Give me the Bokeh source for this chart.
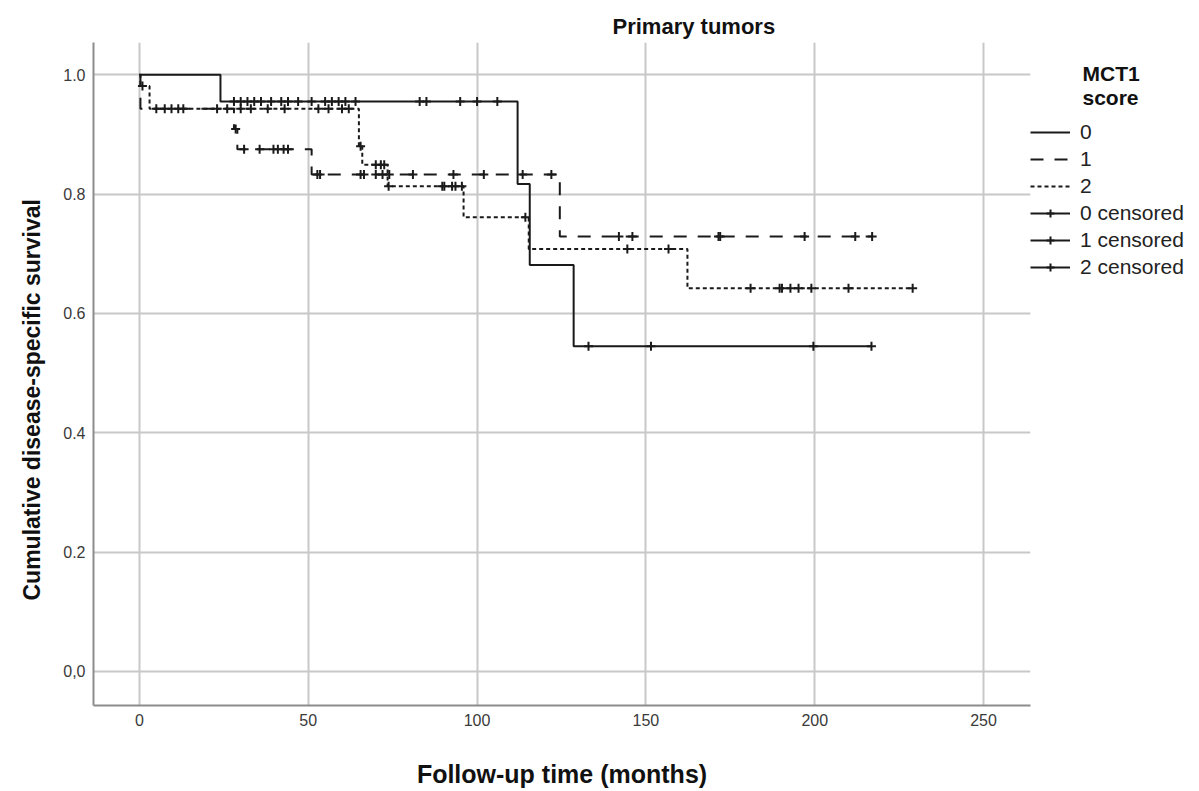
import numpy as np
from bokeh.plotting import figure
from bokeh.models import Range1d, Legend, LegendItem, FixedTicker, Title
from bokeh.embed import file_html
from bokeh.resources import INLINE

FONT = "Liberation Sans"

# ---------------- data ----------------
groups = ["0", "1", "2"]

# MCT1 score 0 (solid)
g0_event_t = [24, 112, 115.6, 128.6]
g0_event_s = [0.955, 0.817, 0.681, 0.545]
g0_cens_t = [28, 30, 32, 34, 36, 39, 42, 44, 47, 51, 55, 57, 59, 61, 64,
             83, 85, 95, 100, 106, 133, 151.5, 199.6, 216.8]

# MCT1 score 1 (dashed)
g1_event_t = [0.3, 28, 29, 51, 124.5]
g1_event_s = [0.943, 0.909, 0.875, 0.833, 0.729]
g1_cens_t = [5, 28.5, 31, 35.6, 39.7, 41, 42.7, 44,
             52.7, 53.5, 65.5, 66.5, 70, 72, 74, 81, 93, 102, 113.5, 122,
             142, 146, 171.5, 172, 197, 212, 217]

# MCT1 score 2 (dotted)
g2_event_t = [0.3, 3, 65, 66, 73.5, 96, 115.3, 162.3]
g2_event_s = [0.981, 0.943, 0.88, 0.849, 0.813, 0.761, 0.708, 0.642]
g2_cens_t = [0.9, 7.5, 9.5, 11.5, 13, 23, 26, 30, 33, 38, 43, 53, 56, 60, 62,
             65.5, 70, 71.5, 72.5, 73.8, 89.7, 90.3, 92.6, 93.6, 95.5, 114.3,
             144.5, 156.7, 181, 189.6, 190.3, 192.8, 195.2, 199, 210, 229]

x_ticks = [0, 50, 100, 150, 200, 250]
y_ticks = [0.0, 0.2, 0.4, 0.6, 0.8, 1.0]
y_tick_labels = ["0,0", "0.2", "0.4", "0.6", "0.8", "1.0"]

title_text = "Primary tumors"
x_label = "Follow-up time (months)"
y_label = "Cumulative disease-specific survival"
legend_title_lines = ["MCT1", "score"]


def km_path(ev_t, ev_s, end_t):
    xs, ys, s = [0.0], [1.0], 1.0
    for t, v in zip(ev_t, ev_s):
        xs += [t, t]
        ys += [s, v]
        s = v
    xs.append(end_t)
    ys.append(s)
    return xs, ys


def surv_at(ev_t, ev_s, t):
    s = 1.0
    for et, v in zip(ev_t, ev_s):
        if et <= t:
            s = v
    return s


p = figure(frame_width=937, frame_height=663, output_backend="svg",
           toolbar_location=None, x_range=Range1d(-13.6, 263.9),
           y_range=Range1d(-0.057, 1.054),
           min_border_left=93, min_border_top=42, min_border_bottom=84,
           min_border_right=0)
p.outline_line_color = None
p.background_fill_color = "white"
p.border_fill_color = "white"

# title
p.title.text = title_text
p.title.text_font = FONT
p.title.text_font_size = "22px"
p.title.text_font_style = "bold"
p.title.text_color = "#111111"
p.title.align = "left"
p.title.offset = 519
p.title.standoff = 8

# axes
for ax in (p.xaxis[0], p.yaxis[0]):
    ax.axis_line_color = "#8c8c8c"
    ax.axis_line_width = 2
    ax.major_tick_line_color = None
    ax.minor_tick_line_color = None
    ax.major_tick_out = 0
    ax.major_tick_in = 0
    ax.major_label_text_font = FONT
    ax.major_label_text_font_size = "16px"
    ax.major_label_text_color = "#3a3a3a"
    ax.axis_label_text_font = FONT
    ax.axis_label_text_font_style = "bold"
    ax.axis_label_text_color = "#111111"

p.xaxis.axis_label_text_font_size = "25px"
p.xaxis.ticker = FixedTicker(ticks=x_ticks)
p.yaxis.ticker = FixedTicker(ticks=y_ticks)
p.yaxis.major_label_overrides = {t: lab for t, lab in zip(y_ticks, y_tick_labels)}
p.xaxis.axis_label = x_label
p.xaxis.major_label_standoff = 8
p.yaxis.major_label_standoff = 8
p.xaxis.axis_label_standoff = 31

# y-axis title as a side title so it can be shifted along the axis
ytitle = Title(text=y_label, align="left", offset=105, standoff=32,
               text_font=FONT, text_font_size="23px", text_font_style="bold",
               text_color="#111111")
p.add_layout(ytitle, "left")

p.xgrid.ticker = FixedTicker(ticks=x_ticks)
p.ygrid.ticker = FixedTicker(ticks=y_ticks)
for g in (p.xgrid[0], p.ygrid[0]):
    g.grid_line_color = "#c8c8c8"
    g.grid_line_width = 2

LC = "#1a1a1a"
styles = [None, "13 11", "4 3"]
ev_ts = [g0_event_t, g1_event_t, g2_event_t]
ev_ss = [g0_event_s, g1_event_s, g2_event_s]
cens = [g0_cens_t, g1_cens_t, g2_cens_t]

line_r, cens_r, dummy_r = [], [], []
for i in range(3):
    end_t = max(cens[i])
    xs, ys = km_path(ev_ts[i], ev_ss[i], end_t)
    kw = dict(line_color=LC, line_width=2)
    if styles[i]:
        kw["line_dash"] = styles[i]
    line_r.append(p.line(xs, ys, **kw))
    cy = [surv_at(ev_ts[i], ev_ss[i], t) for t in cens[i]]
    cens_r.append(p.scatter(cens[i], cy, marker="cross", size=9,
                            line_color=LC, line_width=2))
    # legend-only proxy (no visible data)
    dummy_r.append(p.line([np.nan, np.nan], [np.nan, np.nan],
                          line_color=LC, line_width=2))

items = [LegendItem(label=groups[i], renderers=[line_r[i]]) for i in range(3)]
items += [LegendItem(label=f"{groups[i]} censored", renderers=[dummy_r[i], cens_r[i]])
          for i in range(3)]

pad = "\u00a0" * 9
legend_title = "\n".join(pad + t for t in legend_title_lines)

legend = Legend(items=items, location=(0, 426), orientation="vertical",
                title=legend_title, title_text_font=FONT,
                title_text_font_size="21px", title_text_font_style="bold",
                title_text_color="#111111",
                title_standoff=10,
                glyph_width=40, glyph_height=20, label_height=20, spacing=3,
                label_standoff=10, padding=3, margin=0,
                label_text_font=FONT, label_text_font_size="21px",
                label_text_color="#222222",
                border_line_color=None, background_fill_alpha=0)
p.add_layout(legend, "right")

open("out.html", "w").write(file_html(p, INLINE))
